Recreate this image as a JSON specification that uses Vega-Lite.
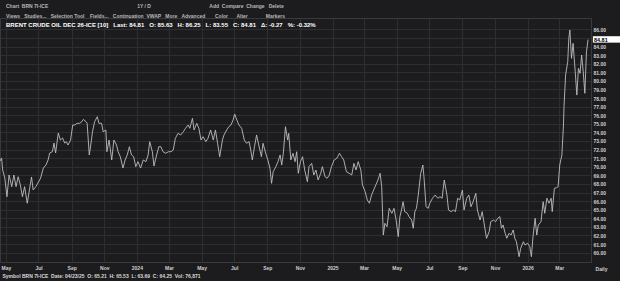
{
  "$schema": "https://vega.github.io/schema/vega-lite/v6.json",
  "width": 591,
  "height": 244,
  "autosize": {"type": "none"},
  "padding": {"left": 0, "top": 18, "right": 29, "bottom": 19},
  "background": "#1c1c1e",
  "config": {
    "view": {"stroke": "#3a3a3c", "fill": "#1c1c1e"},
    "font": "Liberation Sans"
  },
  "title": {
    "text": [
      "\u00a0\u00a0\u00a0\u00a0\u00a0\u00a0\u00a0\u00a0\u00a0\u00a0Chart\u00a0\u00a0BRN 7I-ICE\u00a0\u00a0\u00a0\u00a0\u00a0\u00a0\u00a0\u00a0\u00a0\u00a0\u00a0\u00a0\u00a0\u00a0\u00a0\u00a0\u00a0\u00a0\u00a0\u00a0\u00a0\u00a0\u00a0\u00a0\u00a0\u00a0\u00a0\u00a0\u00a0\u00a0\u00a0\u00a0\u00a0\u00a0\u00a0\u00a0\u00a0\u00a0\u00a0\u00a0\u00a0\u00a0\u00a0\u00a0\u00a0\u00a0\u00a0\u00a0\u00a0\u00a0\u00a0\u00a0\u00a0\u00a0\u00a0\u00a0\u00a0\u00a0\u00a0\u00a0\u00a0\u00a0\u00a0\u00a01Y / D\u00a0\u00a0\u00a0\u00a0\u00a0\u00a0\u00a0\u00a0\u00a0\u00a0\u00a0\u00a0\u00a0\u00a0\u00a0\u00a0\u00a0\u00a0\u00a0\u00a0\u00a0\u00a0\u00a0\u00a0\u00a0\u00a0\u00a0\u00a0\u00a0\u00a0\u00a0\u00a0\u00a0\u00a0\u00a0\u00a0\u00a0\u00a0\u00a0\u00a0\u00a0\u00a0Add\u00a0\u00a0Compare\u00a0\u00a0Change\u00a0\u00a0\u00a0Delete",
      "Views\u00a0\u00a0\u00a0Studies...\u00a0\u00a0\u00a0Selection Tool\u00a0\u00a0\u00a0\u00a0Fields...\u00a0\u00a0\u00a0Continuation\u00a0\u00a0VWAP\u00a0\u00a0\u00a0More\u00a0\u00a0\u00a0Advanced\u00a0\u00a0\u00a0\u00a0\u00a0\u00a0\u00a0Color\u00a0\u00a0\u00a0\u00a0\u00a0\u00a0Alter\u00a0\u00a0\u00a0\u00a0\u00a0\u00a0\u00a0\u00a0\u00a0\u00a0\u00a0\u00a0\u00a0Markers"
    ],
    "subtitle": "BRENT CRUDE OIL DEC 26-ICE [10]\u00a0\u00a0\u00a0Last: 84.81\u00a0\u00a0\u00a0O: 85.63\u00a0\u00a0\u00a0H: 86.25\u00a0\u00a0\u00a0L: 83.55\u00a0\u00a0\u00a0C: 84.81\u00a0\u00a0\u00a0Δ: -0.27\u00a0\u00a0\u00a0%: -0.32%",
    "anchor": "start",
    "frame": "group",
    "offset": -10,
    "dx": 6,
    "fontSize": 5,
    "fontWeight": "bold",
    "color": "#b8b8b8",
    "lineHeight": 10,
    "subtitleFontSize": 6,
    "subtitleFontWeight": "bold",
    "subtitleColor": "#ffffff",
    "subtitlePadding": 3
  },
  "data": {
    "values": [
      {"d": "2023-04-20", "p": 70.67}, {"d": "2023-04-23", "p": 71.02}, {"d": "2023-04-25", "p": 69.62}, {"d": "2023-04-29", "p": 68.69},
      {"d": "2023-05-03", "p": 66.51}, {"d": "2023-05-07", "p": 69.04}, {"d": "2023-05-12", "p": 67.68}, {"d": "2023-05-16", "p": 69.04},
      {"d": "2023-05-20", "p": 67.68}, {"d": "2023-05-24", "p": 68.84}, {"d": "2023-05-28", "p": 67.88}, {"d": "2023-06-01", "p": 66.51},
      {"d": "2023-06-05", "p": 67.68}, {"d": "2023-06-10", "p": 65.75}, {"d": "2023-06-14", "p": 67.29}, {"d": "2023-06-18", "p": 68.81},
      {"d": "2023-06-21", "p": 67.29}, {"d": "2023-06-26", "p": 67.68}, {"d": "2023-06-30", "p": 68.11}, {"d": "2023-07-05", "p": 68.69},
      {"d": "2023-07-10", "p": 69.85}, {"d": "2023-07-15", "p": 70.20}, {"d": "2023-07-19", "p": 70.79}, {"d": "2023-07-22", "p": 71.60},
      {"d": "2023-07-27", "p": 71.75}, {"d": "2023-07-30", "p": 72.76}, {"d": "2023-08-02", "p": 71.60}, {"d": "2023-08-07", "p": 73.93},
      {"d": "2023-08-11", "p": 73.11}, {"d": "2023-08-15", "p": 73.35}, {"d": "2023-08-19", "p": 72.76}, {"d": "2023-08-22", "p": 72.92},
      {"d": "2023-08-25", "p": 72.53}, {"d": "2023-08-30", "p": 73.11}, {"d": "2023-09-03", "p": 74.86}, {"d": "2023-09-07", "p": 74.86},
      {"d": "2023-09-11", "p": 75.06}, {"d": "2023-09-16", "p": 75.06}, {"d": "2023-09-20", "p": 75.24}, {"d": "2023-09-23", "p": 75.52},
      {"d": "2023-09-28", "p": 75.24}, {"d": "2023-09-30", "p": 75.06}, {"d": "2023-10-04", "p": 71.37}, {"d": "2023-10-06", "p": 72.18},
      {"d": "2023-10-10", "p": 74.08}, {"d": "2023-10-14", "p": 75.24}, {"d": "2023-10-19", "p": 75.83}, {"d": "2023-10-22", "p": 75.06},
      {"d": "2023-10-27", "p": 75.06}, {"d": "2023-10-30", "p": 74.08}, {"d": "2023-11-04", "p": 74.28}, {"d": "2023-11-06", "p": 71.75},
      {"d": "2023-11-10", "p": 73.11}, {"d": "2023-11-15", "p": 70.79}, {"d": "2023-11-19", "p": 73.11}, {"d": "2023-11-24", "p": 72.53},
      {"d": "2023-11-27", "p": 71.75}, {"d": "2023-12-01", "p": 71.17}, {"d": "2023-12-06", "p": 69.85}, {"d": "2023-12-10", "p": 70.79},
      {"d": "2023-12-14", "p": 71.37}, {"d": "2023-12-18", "p": 72.33}, {"d": "2023-12-22", "p": 71.37}, {"d": "2023-12-26", "p": 71.17},
      {"d": "2023-12-30", "p": 70.01}, {"d": "2024-01-03", "p": 70.59}, {"d": "2024-01-08", "p": 69.85}, {"d": "2024-01-13", "p": 70.79},
      {"d": "2024-01-18", "p": 70.59}, {"d": "2024-01-22", "p": 71.37}, {"d": "2024-01-25", "p": 72.92}, {"d": "2024-01-30", "p": 71.75},
      {"d": "2024-02-02", "p": 70.09}, {"d": "2024-02-07", "p": 71.37}, {"d": "2024-02-11", "p": 72.33}, {"d": "2024-02-15", "p": 72.33},
      {"d": "2024-02-19", "p": 71.75}, {"d": "2024-02-24", "p": 71.57}, {"d": "2024-02-29", "p": 71.75}, {"d": "2024-03-05", "p": 71.75},
      {"d": "2024-03-09", "p": 71.95}, {"d": "2024-03-13", "p": 73.31}, {"d": "2024-03-18", "p": 73.89}, {"d": "2024-03-23", "p": 73.70},
      {"d": "2024-03-28", "p": 74.08}, {"d": "2024-04-01", "p": 74.48}, {"d": "2024-04-06", "p": 74.86}, {"d": "2024-04-09", "p": 74.48},
      {"d": "2024-04-14", "p": 75.64}, {"d": "2024-04-17", "p": 74.28}, {"d": "2024-04-22", "p": 75.06}, {"d": "2024-04-26", "p": 74.48},
      {"d": "2024-04-30", "p": 73.11}, {"d": "2024-05-04", "p": 73.50}, {"d": "2024-05-09", "p": 72.92}, {"d": "2024-05-13", "p": 73.31},
      {"d": "2024-05-18", "p": 74.28}, {"d": "2024-05-23", "p": 73.11}, {"d": "2024-05-27", "p": 74.28}, {"d": "2024-05-31", "p": 72.73},
      {"d": "2024-06-04", "p": 71.17}, {"d": "2024-06-09", "p": 73.11}, {"d": "2024-06-12", "p": 73.70}, {"d": "2024-06-17", "p": 74.28},
      {"d": "2024-06-21", "p": 74.66}, {"d": "2024-06-25", "p": 74.86}, {"d": "2024-06-29", "p": 75.44}, {"d": "2024-07-02", "p": 76.14},
      {"d": "2024-07-06", "p": 75.44}, {"d": "2024-07-10", "p": 74.86}, {"d": "2024-07-15", "p": 74.48}, {"d": "2024-07-20", "p": 73.11},
      {"d": "2024-07-24", "p": 72.73}, {"d": "2024-07-29", "p": 72.92}, {"d": "2024-08-01", "p": 71.95}, {"d": "2024-08-04", "p": 70.79},
      {"d": "2024-08-08", "p": 72.33}, {"d": "2024-08-12", "p": 73.70}, {"d": "2024-08-16", "p": 72.53}, {"d": "2024-08-21", "p": 71.17},
      {"d": "2024-08-24", "p": 72.73}, {"d": "2024-08-29", "p": 71.57}, {"d": "2024-09-02", "p": 70.79}, {"d": "2024-09-06", "p": 69.82},
      {"d": "2024-09-09", "p": 68.07}, {"d": "2024-09-12", "p": 69.42}, {"d": "2024-09-17", "p": 70.01}, {"d": "2024-09-21", "p": 70.59},
      {"d": "2024-09-25", "p": 71.37}, {"d": "2024-09-28", "p": 70.20}, {"d": "2024-10-01", "p": 71.57}, {"d": "2024-10-05", "p": 74.66},
      {"d": "2024-10-09", "p": 73.11}, {"d": "2024-10-11", "p": 73.89}, {"d": "2024-10-15", "p": 70.79}, {"d": "2024-10-19", "p": 71.57},
      {"d": "2024-10-23", "p": 70.59}, {"d": "2024-10-26", "p": 71.75}, {"d": "2024-10-29", "p": 69.24}, {"d": "2024-11-02", "p": 70.59},
      {"d": "2024-11-06", "p": 71.17}, {"d": "2024-11-10", "p": 69.62}, {"d": "2024-11-15", "p": 68.26}, {"d": "2024-11-18", "p": 70.01},
      {"d": "2024-11-23", "p": 70.40}, {"d": "2024-11-27", "p": 69.04}, {"d": "2024-12-01", "p": 69.62}, {"d": "2024-12-05", "p": 68.46},
      {"d": "2024-12-10", "p": 69.24}, {"d": "2024-12-13", "p": 70.01}, {"d": "2024-12-18", "p": 68.84}, {"d": "2024-12-22", "p": 68.66},
      {"d": "2024-12-26", "p": 69.04}, {"d": "2024-12-30", "p": 70.01}, {"d": "2025-01-04", "p": 70.79}, {"d": "2025-01-09", "p": 70.98},
      {"d": "2025-01-14", "p": 71.57}, {"d": "2025-01-18", "p": 71.17}, {"d": "2025-01-22", "p": 70.79}, {"d": "2025-01-27", "p": 69.42},
      {"d": "2025-02-01", "p": 69.24}, {"d": "2025-02-06", "p": 69.04}, {"d": "2025-02-10", "p": 70.40}, {"d": "2025-02-14", "p": 69.62},
      {"d": "2025-02-18", "p": 70.59}, {"d": "2025-02-23", "p": 69.62}, {"d": "2025-02-26", "p": 67.88}, {"d": "2025-03-03", "p": 67.10},
      {"d": "2025-03-07", "p": 66.13}, {"d": "2025-03-11", "p": 65.75}, {"d": "2025-03-15", "p": 66.71}, {"d": "2025-03-19", "p": 67.29},
      {"d": "2025-03-23", "p": 67.88}, {"d": "2025-03-27", "p": 68.46}, {"d": "2025-03-31", "p": 69.24}, {"d": "2025-04-03", "p": 67.68},
      {"d": "2025-04-06", "p": 62.05}, {"d": "2025-04-09", "p": 63.42}, {"d": "2025-04-13", "p": 63.02}, {"d": "2025-04-17", "p": 65.16},
      {"d": "2025-04-22", "p": 64.58}, {"d": "2025-04-26", "p": 65.16}, {"d": "2025-04-30", "p": 63.80}, {"d": "2025-05-04", "p": 61.86},
      {"d": "2025-05-07", "p": 64.19}, {"d": "2025-05-10", "p": 64.96}, {"d": "2025-05-13", "p": 65.93}, {"d": "2025-05-16", "p": 64.77},
      {"d": "2025-05-21", "p": 64.58}, {"d": "2025-05-24", "p": 64.19}, {"d": "2025-05-29", "p": 63.80}, {"d": "2025-06-01", "p": 62.84},
      {"d": "2025-06-04", "p": 64.77}, {"d": "2025-06-07", "p": 65.16}, {"d": "2025-06-10", "p": 66.51}, {"d": "2025-06-15", "p": 69.24},
      {"d": "2025-06-19", "p": 70.20}, {"d": "2025-06-21", "p": 68.84}, {"d": "2025-06-25", "p": 65.35}, {"d": "2025-06-29", "p": 65.16},
      {"d": "2025-07-02", "p": 65.75}, {"d": "2025-07-07", "p": 66.33}, {"d": "2025-07-12", "p": 66.71}, {"d": "2025-07-17", "p": 66.33},
      {"d": "2025-07-21", "p": 66.51}, {"d": "2025-07-25", "p": 66.33}, {"d": "2025-07-29", "p": 68.46}, {"d": "2025-08-03", "p": 66.71},
      {"d": "2025-08-06", "p": 64.96}, {"d": "2025-08-11", "p": 64.77}, {"d": "2025-08-15", "p": 64.96}, {"d": "2025-08-19", "p": 64.77},
      {"d": "2025-08-23", "p": 66.33}, {"d": "2025-08-27", "p": 66.13}, {"d": "2025-09-01", "p": 67.29}, {"d": "2025-09-04", "p": 64.96},
      {"d": "2025-09-09", "p": 66.33}, {"d": "2025-09-13", "p": 66.71}, {"d": "2025-09-17", "p": 65.35}, {"d": "2025-09-21", "p": 65.93},
      {"d": "2025-09-26", "p": 66.91}, {"d": "2025-09-29", "p": 64.96}, {"d": "2025-10-04", "p": 63.80}, {"d": "2025-10-08", "p": 64.77},
      {"d": "2025-10-12", "p": 63.22}, {"d": "2025-10-16", "p": 61.67}, {"d": "2025-10-21", "p": 62.44}, {"d": "2025-10-24", "p": 63.60},
      {"d": "2025-10-29", "p": 63.80}, {"d": "2025-11-02", "p": 63.60}, {"d": "2025-11-06", "p": 64.00}, {"d": "2025-11-10", "p": 64.19},
      {"d": "2025-11-13", "p": 62.84}, {"d": "2025-11-16", "p": 63.22}, {"d": "2025-11-20", "p": 62.25}, {"d": "2025-11-23", "p": 61.67},
      {"d": "2025-11-27", "p": 62.25}, {"d": "2025-12-01", "p": 62.05}, {"d": "2025-12-05", "p": 62.64}, {"d": "2025-12-08", "p": 61.67},
      {"d": "2025-12-11", "p": 61.27}, {"d": "2025-12-16", "p": 59.53}, {"d": "2025-12-19", "p": 60.51}, {"d": "2025-12-24", "p": 61.27},
      {"d": "2025-12-27", "p": 60.89}, {"d": "2026-01-01", "p": 61.09}, {"d": "2026-01-05", "p": 60.69}, {"d": "2026-01-08", "p": 59.53},
      {"d": "2026-01-11", "p": 61.86}, {"d": "2026-01-15", "p": 64.00}, {"d": "2026-01-18", "p": 62.05}, {"d": "2026-01-21", "p": 63.22},
      {"d": "2026-01-26", "p": 63.60}, {"d": "2026-01-30", "p": 65.93}, {"d": "2026-02-02", "p": 64.58}, {"d": "2026-02-06", "p": 66.33},
      {"d": "2026-02-10", "p": 65.75}, {"d": "2026-02-14", "p": 66.33}, {"d": "2026-02-16", "p": 64.77}, {"d": "2026-02-20", "p": 67.49},
      {"d": "2026-02-24", "p": 67.56}, {"d": "2026-02-27", "p": 67.68}, {"d": "2026-03-02", "p": 70.20}, {"d": "2026-03-06", "p": 71.37},
      {"d": "2026-03-09", "p": 74.86}, {"d": "2026-03-10", "p": 76.99}, {"d": "2026-03-13", "p": 80.68}, {"d": "2026-03-17", "p": 82.23},
      {"d": "2026-03-19", "p": 84.95}, {"d": "2026-03-21", "p": 85.92}, {"d": "2026-03-24", "p": 82.62}, {"d": "2026-03-27", "p": 84.37},
      {"d": "2026-03-31", "p": 81.06}, {"d": "2026-04-03", "p": 78.35}, {"d": "2026-04-06", "p": 81.46}, {"d": "2026-04-09", "p": 80.88},
      {"d": "2026-04-12", "p": 83.01}, {"d": "2026-04-15", "p": 81.06}, {"d": "2026-04-18", "p": 78.55}, {"d": "2026-04-21", "p": 83.39},
      {"d": "2026-04-24", "p": 84.81}
    ]
  },
  "encoding": {
    "x": {
      "field": "d",
      "type": "temporal",
      "scale": {
        "type": "utc",
        "domain": [
          {"year": 2023, "month": 4, "date": 20, "utc": true},
          {"year": 2026, "month": 4, "date": 29, "hours": 12, "utc": true}
        ]
      },
      "axis": {
        "orient": "bottom",
        "tickCount": {"interval": "month", "step": 2},
        "labelExpr": "utcFormat(datum.value, '%m') == '01' ? utcFormat(datum.value, '%Y') : utcFormat(datum.value, '%b')",
        "grid": true,
        "gridColor": "#2e2e30",
        "gridWidth": 1,
        "domain": false,
        "ticks": false,
        "labelFontSize": 5,
        "labelFontWeight": "bold",
        "labelColor": "#cfcfcf",
        "labelPadding": 3,
        "labelFlush": false,
        "labelOverlap": false,
        "labelBound": false,
        "title": "Symbol BRN 7I-ICE\u00a0\u00a0Date: 04/23/25\u00a0\u00a0O: 65.21\u00a0\u00a0H: 65.53\u00a0\u00a0L: 63.69\u00a0\u00a0C: 64.25\u00a0\u00a0Vol: 76,871",
        "titleAnchor": "start",
        "titleAlign": "left",
        "titleFontSize": 5,
        "titleFontWeight": "bold",
        "titleColor": "#d8d8d8",
        "titlePadding": 3,
        "titleX": 2
      }
    },
    "y": {
      "field": "p",
      "type": "quantitative",
      "scale": {"domain": [58.91, 87.32], "nice": false, "zero": false},
      "axis": {
        "orient": "right",
        "values": [60, 61, 62, 63, 64, 65, 66, 67, 68, 69, 70, 71, 72, 73, 74, 75, 76, 77, 78, 79, 80, 81, 82, 83, 84, 85, 86],
        "labelExpr": "datum.value == 85 ? '' : format(datum.value, '.2f')",
        "grid": true,
        "gridColor": "#2e2e30",
        "domain": false,
        "ticks": false,
        "labelFontSize": 5,
        "labelFontWeight": "bold",
        "labelColor": "#cfcfcf",
        "labelPadding": 2,
        "labelAlign": "left",
        "labelOverlap": false,
        "title": "Daily",
        "titleAngle": 0,
        "titleX": 10,
        "titleY": 250,
        "titleAlign": "center",
        "titleBaseline": "middle",
        "titleFontSize": 5,
        "titleFontWeight": "bold",
        "titleColor": "#cfcfcf"
      }
    }
  },
  "layer": [
    {
      "mark": {"type": "line", "color": "#bdbdbd", "strokeWidth": 0.9}
    },
    {
      "data": {"values": [{"d": "2026-05-03", "d2": "2026-06-25", "p": 85.2, "p2": 84.45}]},
      "mark": {"type": "rect", "color": "#ffffff"},
      "encoding": {"x2": {"field": "d2"}, "y2": {"field": "p2"}}
    },
    {
      "data": {"values": [{"d": "2026-05-05", "p": 84.81, "t": "84.81"}]},
      "mark": {"type": "text", "color": "#000000", "fontSize": 5.5, "fontWeight": "bold", "align": "left", "baseline": "middle"},
      "encoding": {"text": {"field": "t"}}
    }
  ]
}
